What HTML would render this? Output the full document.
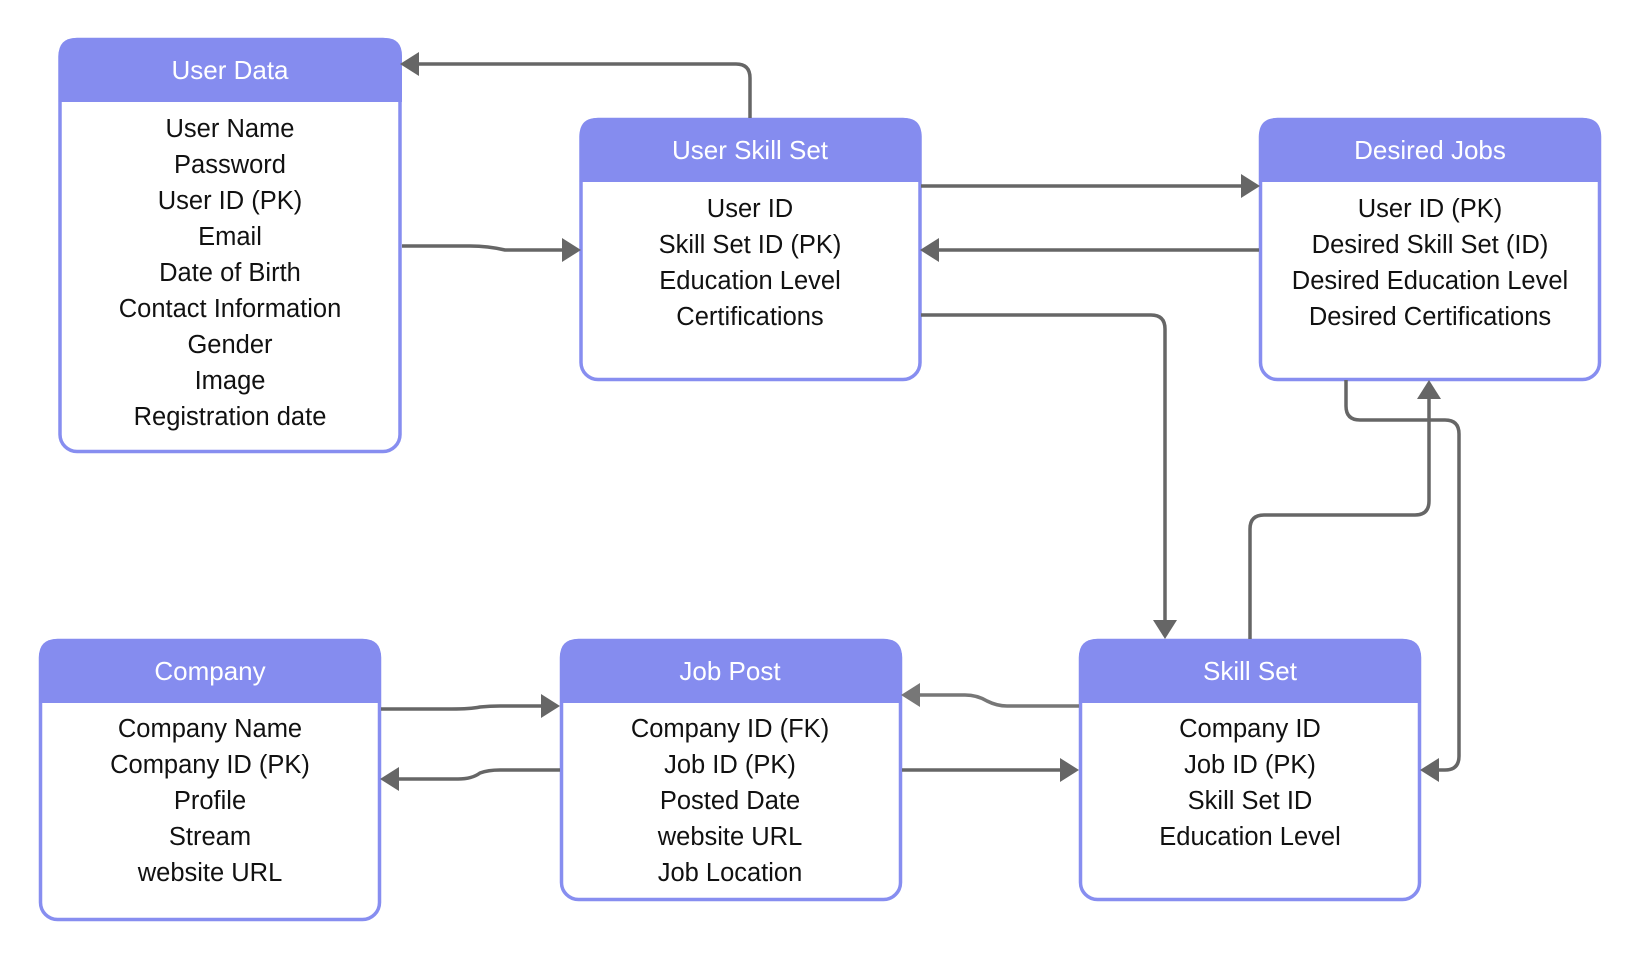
<!DOCTYPE html>
<html><head><meta charset="utf-8"><style>
html,body{margin:0;padding:0;background:#fff;}
svg{display:block;}
.h{font-family:"Liberation Sans",sans-serif;font-size:26px;fill:#fff;text-anchor:middle;}
.b{font-family:"Liberation Sans",sans-serif;font-size:25.5px;fill:#111;text-anchor:middle;}
.c{fill:none;stroke:#666;stroke-width:3.5;stroke-linejoin:round;}
.a{fill:#666;}
</style></head><body>
<svg width="1640" height="960" viewBox="0 0 1640 960" xmlns="http://www.w3.org/2000/svg">
<g>
<rect x="60" y="39.5" width="340" height="412" rx="17" fill="#fff" stroke="#878ef0" stroke-width="3.5"/>
<path d="M58.5,56 Q58.5,38 76,38 H385 Q402,38 402,56 V102 H58.5 Z" fill="#858cef"/>
<text class="h" x="230" y="79">User Data</text>
<text class="b" x="230" y="137">User Name</text>
<text class="b" x="230" y="173">Password</text>
<text class="b" x="230" y="209">User ID (PK)</text>
<text class="b" x="230" y="245">Email</text>
<text class="b" x="230" y="281">Date of Birth</text>
<text class="b" x="230" y="317">Contact Information</text>
<text class="b" x="230" y="353">Gender</text>
<text class="b" x="230" y="389">Image</text>
<text class="b" x="230" y="425">Registration date</text>

<rect x="581" y="119.5" width="339" height="260" rx="17" fill="#fff" stroke="#878ef0" stroke-width="3.5"/>
<path d="M579.5,136 Q579.5,118 597,118 H904 Q921.5,118 921.5,136 V182 H579.5 Z" fill="#858cef"/>
<text class="h" x="750" y="159">User Skill Set</text>
<text class="b" x="750" y="217">User ID</text>
<text class="b" x="750" y="253">Skill Set ID (PK)</text>
<text class="b" x="750" y="289">Education Level</text>
<text class="b" x="750" y="325">Certifications</text>

<rect x="1260.5" y="119.5" width="339" height="260" rx="17" fill="#fff" stroke="#878ef0" stroke-width="3.5"/>
<path d="M1259,136 Q1259,118 1277,118 H1583 Q1601,118 1601,136 V182 H1259 Z" fill="#858cef"/>
<text class="h" x="1430" y="159">Desired Jobs</text>
<text class="b" x="1430" y="217">User ID (PK)</text>
<text class="b" x="1430" y="253">Desired Skill Set (ID)</text>
<text class="b" x="1430" y="289">Desired Education Level</text>
<text class="b" x="1430" y="325">Desired Certifications</text>

<rect x="40.5" y="640.5" width="339" height="279" rx="17" fill="#fff" stroke="#878ef0" stroke-width="3.5"/>
<path d="M39,657 Q39,639 57,639 H363 Q381,639 381,657 V703 H39 Z" fill="#858cef"/>
<text class="h" x="210" y="680">Company</text>
<text class="b" x="210" y="737">Company Name</text>
<text class="b" x="210" y="773">Company ID (PK)</text>
<text class="b" x="210" y="809">Profile</text>
<text class="b" x="210" y="845">Stream</text>
<text class="b" x="210" y="881">website URL</text>

<rect x="561.5" y="640.5" width="339" height="259" rx="17" fill="#fff" stroke="#878ef0" stroke-width="3.5"/>
<path d="M560,657 Q560,639 578,639 H884 Q902,639 902,657 V703 H560 Z" fill="#858cef"/>
<text class="h" x="730" y="680">Job Post</text>
<text class="b" x="730" y="737">Company ID (FK)</text>
<text class="b" x="730" y="773">Job ID (PK)</text>
<text class="b" x="730" y="809">Posted Date</text>
<text class="b" x="730" y="845">website URL</text>
<text class="b" x="730" y="881">Job Location</text>

<rect x="1080.5" y="640.5" width="339" height="259" rx="17" fill="#fff" stroke="#878ef0" stroke-width="3.5"/>
<path d="M1079,657 Q1079,639 1097,639 H1403 Q1421,639 1421,657 V703 H1079 Z" fill="#858cef"/>
<text class="h" x="1250" y="680">Skill Set</text>
<text class="b" x="1250" y="737">Company ID</text>
<text class="b" x="1250" y="773">Job ID (PK)</text>
<text class="b" x="1250" y="809">Skill Set ID</text>
<text class="b" x="1250" y="845">Education Level</text>
</g>

<path class="c" d="M750,118 V78 Q750,64 736,64 H415"/>
<polygon class="a" points="400,64 419,52 419,76"/>

<path class="c" d="M402,246 H470 Q488,246 505,250 H566"/>
<polygon class="a" points="581,250 562,238 562,262"/>

<path class="c" d="M921,186 H1245"/>
<polygon class="a" points="1260,186 1241,174 1241,198"/>

<path class="c" d="M1259,250 H935"/>
<polygon class="a" points="920,250 939,238 939,262"/>

<path class="c" d="M921,315 H1151 Q1165,315 1165,329 V624"/>
<polygon class="a" points="1165,639 1153,620 1177,620"/>

<path class="c" d="M1250,639 V529 Q1250,515 1264,515 H1415 Q1429,515 1429,501 V395"/>
<polygon class="a" points="1429,380 1417,399 1441,399"/>

<path class="c" d="M1346,380 V406 Q1346,420 1360,420 H1445 Q1459,420 1459,434 V756 Q1459,770 1445,770 H1435"/>
<polygon class="a" points="1420,770 1439,758 1439,782"/>

<path class="c" d="M1079,706 H1007 Q997,706 987,701 Q977,695 965,695 H916" style="stroke:#777"/>
<polygon class="a" points="901,695 920,683 920,707" style="fill:#777"/>

<path class="c" d="M902,770 H1064"/>
<polygon class="a" points="1079,770 1060,758 1060,782"/>

<path class="c" d="M381,709 H452 Q470,709 480,707 Q490,706 500,706 H545"/>
<polygon class="a" points="560,706 541,694 541,718"/>

<path class="c" d="M560,770 H500 Q488,770 480,773 Q472,779 458,779 H395"/>
<polygon class="a" points="380,779 399,767 399,791"/>
</svg>
</body></html>
